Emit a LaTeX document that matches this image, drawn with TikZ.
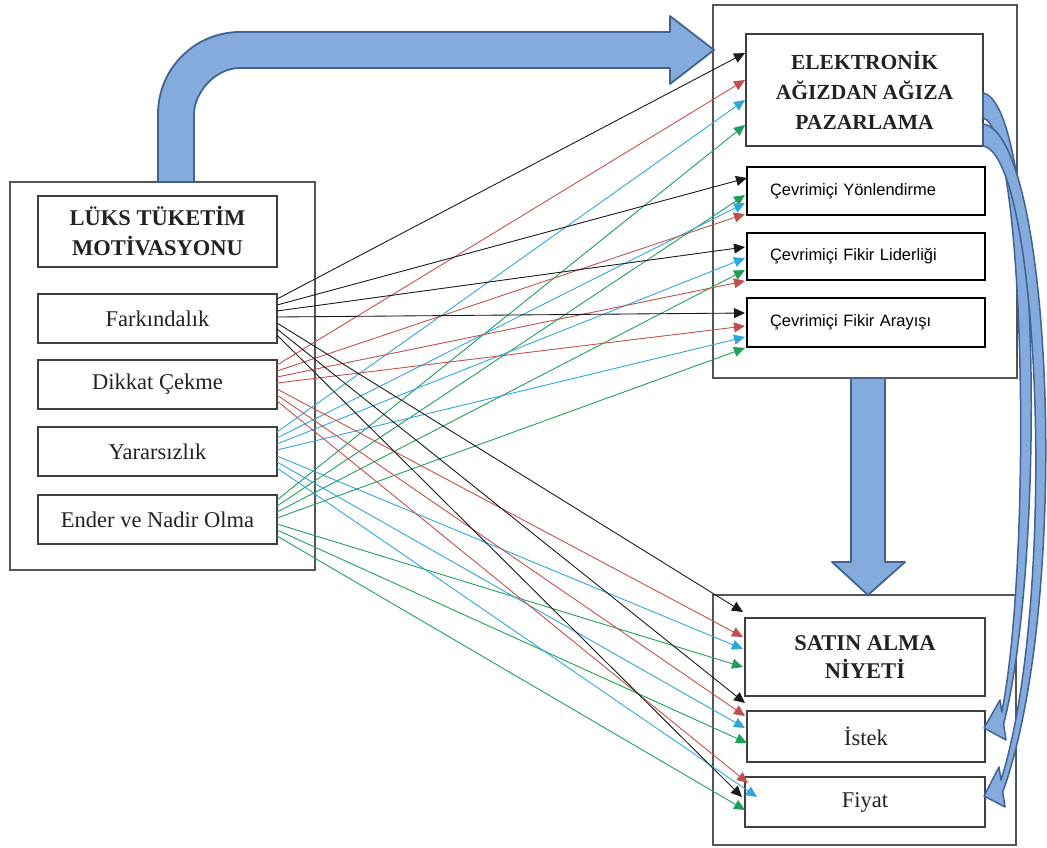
\documentclass[tikz,border=0pt]{standalone}
\usepackage{fontspec}
\setmainfont{Liberation Serif}
\newfontfamily\arialf{Liberation Sans}
\usetikzlibrary{arrows.meta}
\definecolor{cK}{HTML}{1A1A1A}
\definecolor{cR}{HTML}{C0504D}
\definecolor{cB}{HTML}{2FA6DA}
\definecolor{cG}{HTML}{1E9E5A}
\definecolor{bfill}{HTML}{85AADC}
\definecolor{bdraw}{HTML}{3F6394}
\definecolor{frame}{HTML}{555555}
\definecolor{txt}{HTML}{222222}
\begin{document}
\begin{tikzpicture}[x=1pt,y=-1pt,
  outerbox/.style={draw=frame, line width=1.1pt, inner sep=0pt},
  inbox/.style={draw=black!75, line width=1.4pt, fill=white, inner sep=0pt, text=txt,
    font=\fontsize{22.5}{30}\selectfont, align=center},
  titlebox/.style={inbox, font=\fontsize{22.5}{30}\selectfont\bfseries},
  onbox/.style={draw=black, line width=2pt, fill=white, inner xsep=23pt, inner ysep=0pt,
    text=black, font=\arialf\fontsize{16.5}{18}\selectfont, align=left},
  conn/.style={line width=0.85pt, -{Triangle[length=11pt,width=10pt]}},
  linek/.style={conn, draw=cK, fill=black},
  liner/.style={conn, draw=cR, fill=cR},
  lineb/.style={conn, draw=cB, fill=cB},
  lineg/.style={conn, draw=cG, fill=cG},
  blockarrow/.style={fill=bfill, draw=bdraw, line width=1.8pt, line join=round}]
\useasboundingbox (0,0) rectangle (1047,847);

% outer frames
\node[outerbox, minimum width=305pt, minimum height=388pt] (Lout) at (162.5,376) {};
\node[outerbox, minimum width=304pt, minimum height=373pt] (Tout) at (865,191.5) {};
\node[outerbox, minimum width=303pt, minimum height=250pt] (Bout) at (864.5,720) {};

% left boxes
\node[titlebox, minimum width=239pt, minimum height=71pt] (LT) at (157.5,231.5) {LÜKS TÜKETİM\\MOTİVASYONU};
\node[inbox, minimum width=239pt, minimum height=49pt] (F) at (157.5,318.5) {Farkındalık};
\node[inbox, minimum width=239pt, minimum height=49pt] (D) at (157.5,384.5) {Dikkat Çekme};
\node[inbox, minimum width=239pt, minimum height=49pt] (Y) at (157.5,451.5) {Yararsızlık};
\node[inbox, minimum width=239pt, minimum height=49pt] (E) at (157.5,519.5) {Ender ve Nadir Olma};

% top right boxes
\node[titlebox, minimum width=237pt, minimum height=112pt, font=\fontsize{21.5}{30}\selectfont\bfseries] (EAA) at (864.5,90) {ELEKTRONİK\\AĞIZDAN AĞIZA\\PAZARLAMA};
\node[onbox, text width=192pt, minimum height=48pt] (Yon) at (866,191) {Çevrimiçi Yönlendirme};
\node[onbox, text width=192pt, minimum height=47pt] (Lid) at (866,256.5) {Çevrimiçi Fikir Liderliği};
\node[onbox, text width=192pt, minimum height=49pt] (Ara) at (866,322.5) {Çevrimiçi Fikir Arayışı};

% bottom right boxes
\node[titlebox, minimum width=240pt, minimum height=78pt, font=\fontsize{22.5}{28}\selectfont\bfseries] (SAT) at (865,657) {SATIN ALMA\\NİYETİ};
\node[inbox, minimum width=238pt, minimum height=51pt] (Ist) at (866,736.5) {İstek};
\node[inbox, minimum width=240pt, minimum height=50pt] (Fiy) at (865,802) {Fiyat};

% source points
\foreach \s/\top in {F/294, D/360, Y/427, E/495}{
  \foreach \k in {1,...,7}{ \coordinate (\s\k) at (277,{\top+6*\k-1}); }
}
% target points
\coordinate (tEAAk) at (745,53);  \coordinate (tEAAr) at (745,80);
\coordinate (tEAAb) at (745,100); \coordinate (tEAAg) at (745,125);
\coordinate (tYonk) at (747,178); \coordinate (tYong) at (745,195);
\coordinate (tYonb) at (745,203); \coordinate (tYonr) at (745,214);
\coordinate (tLidk) at (745,247); \coordinate (tLidb) at (745,258);
\coordinate (tLidg) at (745,270); \coordinate (tLidr) at (745,281);
\coordinate (tArak) at (745,313); \coordinate (tArar) at (745,326);
\coordinate (tArab) at (745,337); \coordinate (tArag) at (745,348);
\coordinate (tSATk) at (743,612); \coordinate (tSATr) at (743,637);
\coordinate (tSATb) at (743,649); \coordinate (tSATg) at (743,667);
\coordinate (tIstk) at (745,703); \coordinate (tIstr) at (745,716);
\coordinate (tIstb) at (745,728); \coordinate (tIstg) at (747,743);
\coordinate (tFiyr) at (748,783); \coordinate (tFiyb) at (757,797);
\coordinate (tFiyk) at (742,797); \coordinate (tFiyg) at (745,810);

% connectors
\foreach \c/\s in {g/E, b/Y, r/D, k/F}{
  \foreach \t [count=\k] in {EAA,Yon,Lid,Ara,SAT,Ist,Fiy}{
    \draw[line\c] (\s\k) -- (t\t\c);
  }
}

% big curved block arrow (top)
\draw[blockarrow] (158,182) -- (158,114)
  .. controls (158,68.7) and (194.7,32) .. (240,32)
  -- (670,32) -- (670,16) -- (714,50) -- (670,84) -- (670,68) -- (240,68)
  .. controls (214.6,68) and (194,93.4) .. (194,114) -- (194,182) -- cycle;

% down block arrow
\draw[blockarrow] (851,378) -- (851,562) -- (832,562) -- (868,595) -- (905,562)
  -- (885,562) -- (885,378) -- cycle;

% right curved arrows
\draw[blockarrow, line width=1.5pt] (983,93) .. controls (1040,103) and (1046,560) .. (1003.6,724)
  -- (1006,740) -- (984,728) -- (1000,700) -- (1001.8,712)
  .. controls (1032,560) and (1026,128) .. (983,118) -- cycle;
\draw[blockarrow, line width=1.5pt] (983,124) .. controls (1052,133) and (1072,600) .. (1002.75,792)
  -- (1005,807) -- (984,796) -- (999,767) -- (1001,780)
  .. controls (1058,600) and (1040,155) .. (983,146) -- cycle;
\end{tikzpicture}
\end{document}
